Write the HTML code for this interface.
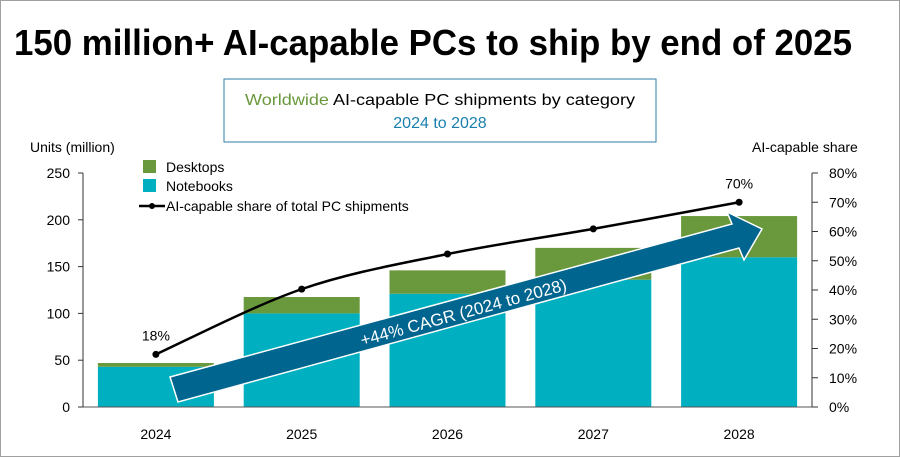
<!DOCTYPE html>
<html><head><meta charset="utf-8"><style>
html,body{margin:0;padding:0;background:#fff}
svg{display:block}
text{font-family:"Liberation Sans",sans-serif}
</style></head><body>
<svg width="900" height="457" viewBox="0 0 900 457">
<rect x="0.5" y="0.5" width="899" height="456" fill="#fff" stroke="#a0a0a0"/>
<text x="14" y="55" font-size="36" font-weight="bold" textLength="838" lengthAdjust="spacingAndGlyphs">150 million+ AI-capable PCs to ship by end of 2025</text>
<rect x="224" y="79" width="432" height="63" fill="#fff" stroke="#2f7ea6" stroke-width="1"/>
<text x="440" y="105" font-size="16" text-anchor="middle" textLength="390" lengthAdjust="spacingAndGlyphs"><tspan fill="#6a983c">Worldwide</tspan> AI-capable PC shipments by category</text>
<text x="440" y="128" font-size="16" text-anchor="middle" fill="#1a7fad">2024 to 2028</text>
<text x="30" y="152" font-size="14">Units (million)</text>
<text x="752" y="152" font-size="14">AI-capable share</text>
<g id="plot"></g>
</svg>
<script>
const categories=["2024","2025","2026","2027","2028"];
const notebooks=[43,100,121,136,160];
const desktops=[4,17.5,25,34,44];
const share=[18,40.3,52.3,60.9,70];
const leftTicks=[0,50,100,150,200,250];
const rightTicks=[0,10,20,30,40,50,60,70,80];
const shareLabels=["18%","","","","70%"];
const NS="http://www.w3.org/2000/svg";
const g=document.getElementById('plot');
const X0=83,X1=812,Y0=407,Y1=173;
const yL=v=>Y0-(v/250)*(Y0-Y1);
const yR=v=>Y0-(v/80)*(Y0-Y1);
const band=(X1-X0)/categories.length;
const xC=i=>X0+band*(i+0.5);
const BW=116;
function el(t,a,p){const e=document.createElementNS(NS,t);for(const k in a)e.setAttribute(k,a[k]);(p||g).appendChild(e);return e;}
// bars
categories.forEach((c,i)=>{
 const n=el('rect',{x:xC(i)-BW/2,y:yL(notebooks[i]),width:BW,height:Y0-yL(notebooks[i]),fill:'#00b0c0'});
 
 
 const d=el('rect',{x:xC(i)-BW/2,y:yL(notebooks[i]+desktops[i]),width:BW,height:yL(notebooks[i])-yL(notebooks[i]+desktops[i]),fill:'#6a983c'});
 
 
 const t=el('text',{x:xC(i),y:439,'font-size':14,'text-anchor':'middle'});
 t.textContent=c;
 
 
});
// axes
const la=el('line',{x1:X0,y1:Y1,x2:X0,y2:Y0,stroke:'#333'});


const ra=el('line',{x1:X1,y1:Y1,x2:X1,y2:Y0,stroke:'#333'});


const xa=el('line',{x1:X0,y1:Y0,x2:X1,y2:Y0,stroke:'#555'});


leftTicks.forEach(v=>{
 el('line',{x1:X0-5,y1:yL(v),x2:X0,y2:yL(v),stroke:'#333'});
 const t=el('text',{x:70,y:yL(v)+5,'font-size':14,'text-anchor':'end'});
 t.textContent=v;
 
 
});
rightTicks.forEach(v=>{
 el('line',{x1:X1,y1:yR(v),x2:X1+6,y2:yR(v),stroke:'#333'});
 const t=el('text',{x:829,y:yR(v)+5,'font-size':14});
 t.textContent=v+'%';
 
 
});
// smooth line
const pts=share.map((v,i)=>[xC(i),yR(v)]);
let d='M'+pts[0][0]+','+pts[0][1];
for(let i=0;i<pts.length-1;i++){
 const p0=pts[i-1]||pts[i],p1=pts[i],p2=pts[i+1],p3=pts[i+2]||p2;
 const c1=[p1[0]+(p2[0]-p0[0])/6,p1[1]+(p2[1]-p0[1])/6];
 const c2=[p2[0]-(p3[0]-p1[0])/6,p2[1]-(p3[1]-p1[1])/6];
 d+=` C${c1[0]},${c1[1]} ${c2[0]},${c2[1]} ${p2[0]},${p2[1]}`;
}
const line=el('path',{d:d,fill:'none',stroke:'#000','stroke-width':2.5});


pts.forEach((p,i)=>{
 const c=el('circle',{cx:p[0],cy:p[1],r:3.5,fill:'#000'});
 
 
 if(shareLabels[i]){
  const t=el('text',{x:p[0],y:p[1]-14,'font-size':14,'text-anchor':'middle'});
  t.textContent=shareLabels[i];
  
  
 }
});
// CAGR arrow
const arrow=el('polygon',{points:'170,377 732,224 727,212 762,229 744,260 739,248 178,402',fill:'#00658f',stroke:'#fff','stroke-width':1.5});


const at=el('text',{x:465,y:318,'font-size':17,fill:'#fff','text-anchor':'middle',transform:'rotate(-15.3 465 318)'});
at.textContent='+44% CAGR (2024 to 2028)';


// legend
const l1=el('rect',{x:143,y:160,width:13,height:13,fill:'#6a983c'});


const l1t=el('text',{x:166,y:172,'font-size':14});
l1t.textContent='Desktops';


const l2=el('rect',{x:143,y:179,width:13,height:13,fill:'#00b0c0'});


const l2t=el('text',{x:166,y:191,'font-size':14});
l2t.textContent='Notebooks';


const l3=el('line',{x1:139,y1:206,x2:165,y2:206,stroke:'#000','stroke-width':2.5});


el('circle',{cx:152,cy:206,r:3,fill:'#000'});
const l3t=el('text',{x:166,y:211,'font-size':14});
l3t.textContent='AI-capable share of total PC shipments';


</script>
</body></html>
